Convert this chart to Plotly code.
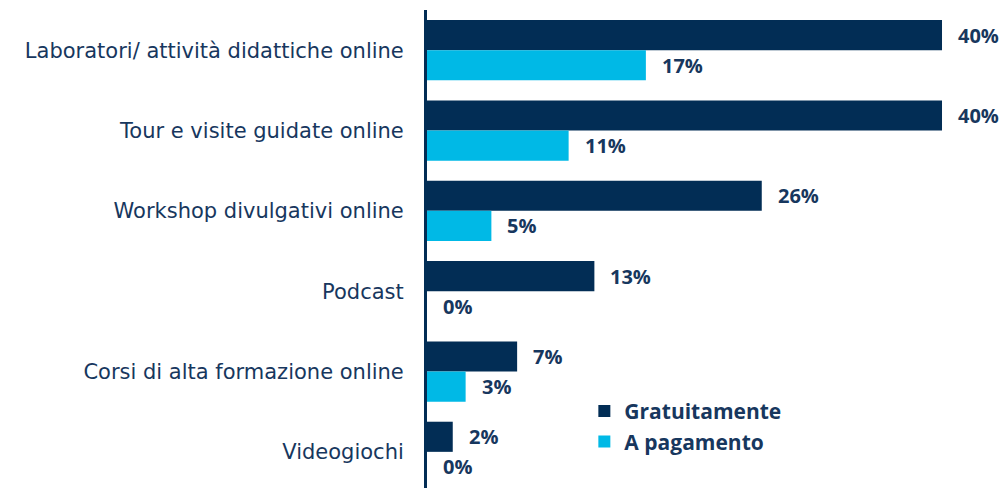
import plotly.graph_objects as go

categories = [
    "Laboratori/ attività didattiche online",
    "Tour e visite guidate online",
    "Workshop divulgativi online",
    "Podcast",
    "Corsi di alta formazione online",
    "Videogiochi",
]
gratuitamente = [40, 40, 26, 13, 7, 2]
a_pagamento = [17, 11, 5, 0, 3, 0]
series_names = ["Gratuitamente", "A pagamento"]

DARK = "#022D55"
CYAN = "#00B9E6"
TEXT = "#17375E"

fig = go.Figure()
fig.add_trace(go.Bar(y=categories, x=gratuitamente, orientation="h", name=series_names[0],
                     marker=dict(color=DARK, line=dict(width=0))))
fig.add_trace(go.Bar(y=categories, x=a_pagamento, orientation="h", name=series_names[1],
                     marker=dict(color=CYAN, line=dict(width=0))))

# data labels
for vals, off in ((gratuitamente, -0.1875), (a_pagamento, 0.1875)):
    for i, v in enumerate(vals):
        fig.add_annotation(x=v, y=i + off, yref="y", xref="x", text=f"{v}%",
                           showarrow=False, xanchor="left", yanchor="middle", xshift=14,
                           font=dict(family="Open Sans", size=20, color=TEXT, weight="bold"))

fig.update_layout(
    width=1003, height=488,
    margin=dict(l=427, r=10, t=10, b=0),
    paper_bgcolor="white", plot_bgcolor="white",
    barmode="group", bargap=0.25, bargroupgap=0,
    showlegend=True,
    legend=dict(x=0.278, y=0.203, xanchor="left", yanchor="top", traceorder="normal",
                font=dict(family="Open Sans", size=21, color=TEXT, weight="bold"),
                bgcolor="rgba(0,0,0,0)", tracegroupgap=0),
    xaxis=dict(range=[0, 43.96], showgrid=False, showticklabels=False, zeroline=False,
               showline=False, fixedrange=True),
    yaxis=dict(type="category", range=[5.45, -0.5], showgrid=False, showline=True,
               linecolor=DARK, linewidth=3, ticks="", ticklabelstandoff=16,
               tickfont=dict(family="DejaVu Sans", size=21, color=TEXT)),
)

fig.write_html("out.html", config={"displayModeBar": False},
               post_script="document.body.style.margin='0';")
